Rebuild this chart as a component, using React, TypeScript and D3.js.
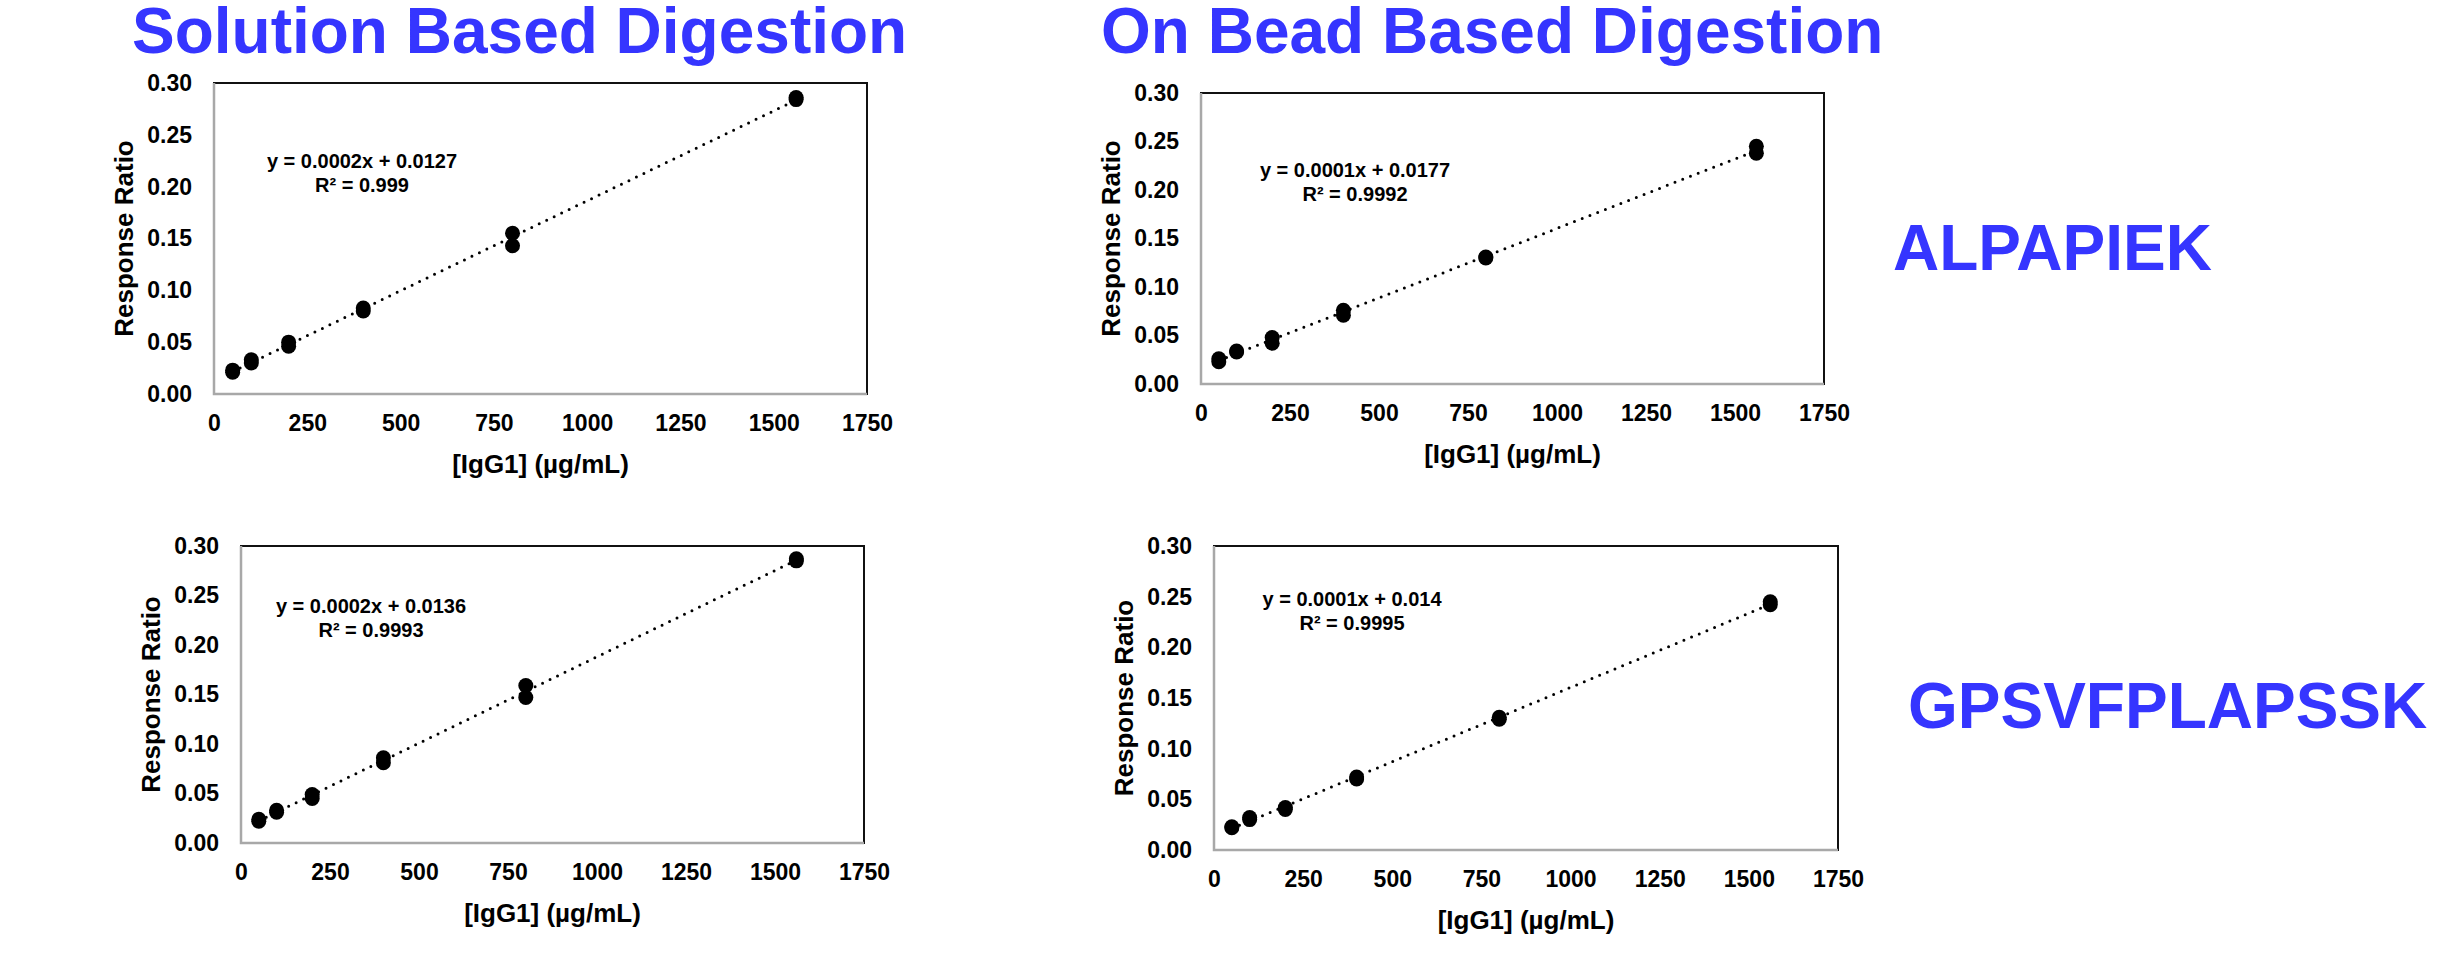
import * as d3 from "d3";
import { useEffect, useRef } from "react";

// concentrations (ug/mL), duplicate injections
const conc = [50, 50, 100, 100, 200, 200, 400, 400, 800, 800, 1560, 1560];

// response ratios
const solutionAlp = [0.021, 0.023, 0.030, 0.033, 0.046, 0.050, 0.080, 0.083, 0.155, 0.143, 0.284, 0.286];
const beadAlp = [0.023, 0.026, 0.033, 0.034, 0.042, 0.048, 0.071, 0.076, 0.130, 0.131, 0.245, 0.238];
const solutionGps = [0.022, 0.024, 0.031, 0.033, 0.045, 0.049, 0.081, 0.086, 0.159, 0.147, 0.285, 0.287];
const beadGps = [0.022, 0.023, 0.030, 0.032, 0.040, 0.042, 0.070, 0.072, 0.129, 0.131, 0.242, 0.245];

const equations = ["y = 0.0002x + 0.0127", "y = 0.0001x + 0.0177", "y = 0.0002x + 0.0136", "y = 0.0001x + 0.014"];
const rSquared = ["R² = 0.999", "R² = 0.9992", "R² = 0.9993", "R² = 0.9995"];

const columnTitles = ["Solution Based Digestion", "On Bead Based Digestion"];
const peptides = ["ALPAPIEK", "GPSVFPLAPSSK"];

const xTicks = [0, 250, 500, 750, 1000, 1250, 1500, 1750];
const yTicks = [0, 0.05, 0.1, 0.15, 0.2, 0.25, 0.3];

const FONT = "'Liberation Sans', Arial, sans-serif";
const BLUE = "#3535FF";

// panel boxes in page pixels
const panels = [
  { ys: solutionAlp, l: 214, r: 867, t: 83, b: 394, ex: 362, ey: 161 },
  { ys: beadAlp, l: 1201, r: 1824, t: 93, b: 384, ex: 1355, ey: 170 },
  { ys: solutionGps, l: 241, r: 864, t: 546, b: 843, ex: 371, ey: 606 },
  { ys: beadGps, l: 1214, r: 1838, t: 546, b: 850, ex: 1352, ey: 599 },
];

function fit(xs: number[], ys: number[]) {
  const mx = d3.mean(xs)!;
  const my = d3.mean(ys)!;
  let num = 0, den = 0;
  xs.forEach((x, i) => {
    num += (x - mx) * (ys[i] - my);
    den += (x - mx) * (x - mx);
  });
  const m = num / den;
  return { m, c: my - m * mx };
}

export default function App() {
  const svgRef = useRef(null);

  useEffect(() => {
    const svg = d3.select(svgRef.current);
    svg.selectAll("*").remove();

    panels.forEach((p, i) => {
      const x = d3.scaleLinear().domain([0, 1750]).range([p.l, p.r]);
      const y = d3.scaleLinear().domain([0, 0.3]).range([p.b, p.t]);
      const g = svg.append("g");

      g.append("rect")
        .attr("x", p.l).attr("y", p.t)
        .attr("width", p.r - p.l).attr("height", p.b - p.t)
        .attr("fill", "white").attr("stroke", "#111").attr("stroke-width", 2);
      g.append("path")
        .attr("d", `M${p.l},${p.t} V${p.b} H${p.r}`)
        .attr("fill", "none").attr("stroke", "#a8a8a8").attr("stroke-width", 2.5);

      const yAxis = g.append("g")
        .attr("transform", `translate(${p.l},0)`)
        .call(d3.axisLeft(y).tickValues(yTicks).tickSize(0).tickPadding(22).tickFormat(d3.format(".2f")));
      const xAxis = g.append("g")
        .attr("transform", `translate(0,${p.b})`)
        .call(d3.axisBottom(x).tickValues(xTicks).tickSize(0).tickPadding(21).tickFormat(d3.format("d")));
      [yAxis, xAxis].forEach((a) => {
        a.select(".domain").remove();
        a.selectAll("text")
          .attr("font-family", FONT).attr("font-weight", "bold")
          .attr("font-size", 23).attr("fill", "#000");
      });

      g.append("text")
        .attr("x", (p.l + p.r) / 2).attr("y", p.b + 70)
        .attr("dy", "0.35em").attr("text-anchor", "middle")
        .attr("font-family", FONT).attr("font-weight", "bold").attr("font-size", 26)
        .text("[IgG1] (µg/mL)");
      g.append("text")
        .attr("transform", `translate(${p.l - 90},${(p.t + p.b) / 2}) rotate(-90)`)
        .attr("dy", "0.35em").attr("text-anchor", "middle")
        .attr("font-family", FONT).attr("font-weight", "bold").attr("font-size", 26)
        .text("Response Ratio");

      // trendline
      const { m, c } = fit(conc, p.ys);
      const [x0, x1] = d3.extent(conc) as [number, number];
      g.append("line")
        .attr("x1", x(x0)).attr("y1", y(m * x0 + c))
        .attr("x2", x(x1)).attr("y2", y(m * x1 + c))
        .attr("stroke", "#000").attr("stroke-width", 3)
        .attr("stroke-linecap", "round").attr("stroke-dasharray", "0 8.3");

      g.selectAll(".pt")
        .data(conc)
        .enter()
        .append("circle")
        .attr("cx", (d) => x(d))
        .attr("cy", (d, j) => y(p.ys[j]))
        .attr("r", 7.5)
        .attr("fill", "#000");

      const eq = g.append("text")
        .attr("text-anchor", "middle")
        .attr("font-family", FONT).attr("font-weight", "bold").attr("font-size", 20);
      eq.append("tspan").attr("x", p.ex).attr("y", p.ey).attr("dy", "0.35em").text(equations[i]);
      eq.append("tspan").attr("x", p.ex).attr("y", p.ey + 24).attr("dy", "0.35em").text(rSquared[i]);
    });

    svg.selectAll(".col")
      .data(columnTitles)
      .enter()
      .append("text")
      .attr("x", (d, i) => [132, 1101][i])
      .attr("y", 53)
      .attr("font-family", FONT).attr("font-weight", "bold").attr("font-size", 64)
      .attr("fill", BLUE)
      .text((d) => d);

    svg.selectAll(".pep")
      .data(peptides)
      .enter()
      .append("text")
      .attr("x", (d, i) => [1893, 1908][i])
      .attr("y", (d, i) => [270, 728][i])
      .attr("font-family", FONT).attr("font-weight", "bold").attr("font-size", 64)
      .attr("fill", BLUE)
      .text((d) => d);
  }, []);

  return (
    <div>
      <svg
        ref={svgRef}
        width={2464}
        height={955}
        style={{ position: "absolute", left: 0, top: 0, background: "white" }}
      ></svg>
    </div>
  );
}
